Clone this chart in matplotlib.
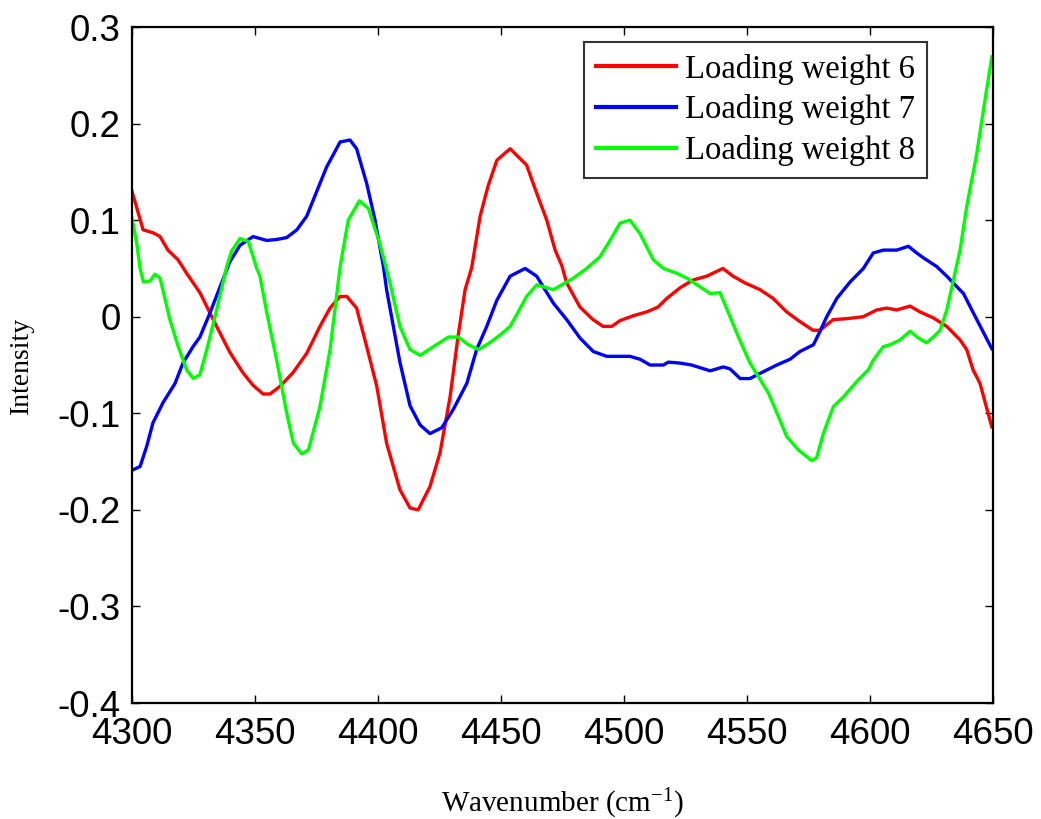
import matplotlib
matplotlib.use("Agg")
import matplotlib.pyplot as plt

# Loading weight 6
wn6 = [4300.0, 4304.5, 4308.5, 4311.4, 4314.6, 4318.7, 4322.2, 4327.6, 4334.4, 4339.8,
       4345.1, 4349.2, 4353.3, 4356.1, 4360.2, 4365.4, 4371.0, 4376.4, 4380.5, 4384.6,
       4387.3, 4391.3, 4395.4, 4399.5, 4403.5, 4408.9, 4413.0, 4416.3, 4421.1, 4425.2,
       4429.3, 4432.5, 4435.4, 4438.1, 4441.5, 4444.7, 4448.3, 4453.7, 4460.4, 4464.5,
       4468.6, 4472.0, 4474.7, 4476.7, 4482.1, 4487.4, 4491.5, 4495.0, 4498.4, 4503.7,
       4509.2, 4513.8, 4517.4, 4522.8, 4528.0, 4533.6, 4540.2, 4544.3, 4549.2, 4555.3,
       4560.6, 4566.1, 4571.5, 4576.8, 4579.7, 4585.0, 4590.5, 4597.2, 4602.7, 4606.8,
       4610.8, 4616.3, 4620.3, 4625.6, 4631.2, 4636.6, 4639.3, 4641.9, 4644.7, 4649.5]
lw6 = [0.130, 0.090, 0.087, 0.083, 0.069, 0.059, 0.045, 0.025, -0.010, -0.037,
       -0.058, -0.071, -0.080, -0.080, -0.072, -0.058, -0.038, -0.010, 0.009, 0.021,
       0.021, 0.009, -0.031, -0.072, -0.131, -0.179, -0.198, -0.200, -0.176, -0.141,
       -0.083, -0.021, 0.028, 0.051, 0.104, 0.135, 0.162, 0.174, 0.157, 0.128,
       0.100, 0.069, 0.053, 0.035, 0.010, -0.003, -0.010, -0.010, -0.004, 0.001,
       0.005, 0.010, 0.019, 0.030, 0.038, 0.042, 0.050, 0.042, 0.035, 0.028,
       0.019, 0.005, -0.005, -0.014, -0.014, -0.003, -0.002, 0.000, 0.007, 0.009,
       0.007, 0.011, 0.005, -0.001, -0.010, -0.024, -0.034, -0.055, -0.069, -0.114]

# Loading weight 7
wn7 = [4300.0, 4303.3, 4306.0, 4308.5, 4312.6, 4317.5, 4320.7, 4324.8, 4327.6, 4331.7,
       4335.8, 4339.8, 4343.9, 4349.2, 4354.8, 4358.8, 4362.9, 4367.0, 4371.0, 4376.4,
       4379.1, 4384.6, 4388.6, 4391.3, 4395.4, 4398.8, 4402.2, 4403.5, 4408.9, 4413.0,
       4417.1, 4421.1, 4425.9, 4430.6, 4436.1, 4440.1, 4444.2, 4448.3, 4453.7, 4459.8,
       4464.5, 4471.3, 4476.7, 4482.1, 4487.5, 4493.0, 4502.4, 4506.5, 4510.6, 4516.0,
       4518.0, 4522.8, 4527.5, 4535.0, 4540.4, 4543.1, 4547.2, 4551.2, 4556.6, 4562.1,
       4567.5, 4571.5, 4577.0, 4579.7, 4582.4, 4586.5, 4591.9, 4597.3, 4601.3, 4605.4,
       4610.9, 4615.6, 4619.0, 4621.7, 4627.1, 4631.2, 4638.0, 4642.0, 4649.5]
lw7 = [-0.159, -0.155, -0.134, -0.110, -0.089, -0.069, -0.048, -0.031, -0.021, 0.004,
       0.031, 0.057, 0.074, 0.083, 0.079, 0.080, 0.082, 0.090, 0.104, 0.138,
       0.155, 0.181, 0.183, 0.174, 0.138, 0.100, 0.052, 0.028, -0.047, -0.092,
       -0.112, -0.121, -0.115, -0.096, -0.069, -0.034, -0.010, 0.017, 0.042, 0.050,
       0.042, 0.014, -0.003, -0.022, -0.036, -0.041, -0.041, -0.044, -0.050, -0.050,
       -0.047, -0.048, -0.050, -0.056, -0.052, -0.054, -0.064, -0.064, -0.057, -0.050,
       -0.044, -0.036, -0.029, -0.015, 0.000, 0.019, 0.036, 0.050, 0.066, 0.069,
       0.069, 0.073, 0.066, 0.061, 0.052, 0.042, 0.024, 0.004, -0.033]

# Loading weight 8
wn8 = [4300.0, 4301.9, 4303.3, 4304.6, 4307.3, 4309.3, 4311.4, 4315.4, 4318.8, 4322.2,
       4324.9, 4327.6, 4330.4, 4334.4, 4338.5, 4340.5, 4343.9, 4347.3, 4350.7, 4352.0,
       4354.8, 4358.8, 4362.9, 4365.6, 4369.0, 4371.7, 4376.4, 4380.5, 4384.6, 4387.9,
       4392.4, 4396.1, 4400.8, 4404.9, 4408.9, 4413.0, 4417.1, 4422.5, 4428.6, 4432.6,
       4436.7, 4440.8, 4444.8, 4449.6, 4453.7, 4457.0, 4460.4, 4464.5, 4471.3, 4479.4,
       4484.8, 4490.2, 4494.3, 4498.4, 4502.4, 4506.5, 4511.9, 4516.0, 4521.4, 4525.5,
       4530.9, 4535.0, 4539.0, 4543.1, 4546.5, 4551.2, 4554.6, 4558.7, 4562.7, 4566.1,
       4570.9, 4576.3, 4578.3, 4581.0, 4585.1, 4589.2, 4594.6, 4599.3, 4601.3, 4605.4,
       4608.1, 4612.2, 4616.3, 4619.6, 4623.0, 4625.7, 4628.5, 4631.2, 4633.9, 4636.6,
       4639.3, 4643.4, 4646.1, 4649.5]
lw8 = [0.102, 0.076, 0.050, 0.036, 0.037, 0.044, 0.040, -0.003, -0.031, -0.055,
       -0.064, -0.060, -0.034, 0.007, 0.052, 0.068, 0.081, 0.078, 0.050, 0.042,
       0.004, -0.045, -0.100, -0.131, -0.142, -0.138, -0.093, -0.034, 0.052, 0.100,
       0.120, 0.112, 0.075, 0.035, -0.010, -0.034, -0.040, -0.031, -0.021, -0.021,
       -0.029, -0.034, -0.028, -0.019, -0.010, 0.005, 0.021, 0.033, 0.028, 0.040,
       0.050, 0.062, 0.079, 0.097, 0.100, 0.086, 0.059, 0.050, 0.045, 0.040,
       0.031, 0.024, 0.025, 0.000, -0.021, -0.048, -0.062, -0.079, -0.103, -0.124,
       -0.138, -0.149, -0.146, -0.121, -0.093, -0.083, -0.067, -0.055, -0.045, -0.031,
       -0.029, -0.024, -0.015, -0.022, -0.027, -0.021, -0.014, 0.007, 0.038, 0.069,
       0.114, 0.169, 0.214, 0.269]

series_labels = ["Loading weight 6", "Loading weight 7", "Loading weight 8"]
series_colors = ["#ff0000", "#0000ff", "#00ff00"]

xticks = [4300, 4350, 4400, 4450, 4500, 4550, 4600, 4650]
yticks = [-0.4, -0.3, -0.2, -0.1, 0.0, 0.1, 0.2, 0.3]
ytick_labels = ["-0.4", "-0.3", "-0.2", "-0.1", "0", "0.1", "0.2", "0.3"]

plt.rcParams["mathtext.fontset"] = "custom"
plt.rcParams["mathtext.rm"] = "Liberation Serif"
plt.rcParams["mathtext.it"] = "Liberation Serif:italic"

fig = plt.figure(figsize=(10.41, 8.19), dpi=100)
ax = fig.add_axes([0.1268, 0.1416, 0.8271, 0.8254])

for xs, ys, lab, col in zip([wn6, wn7, wn8], [lw6, lw7, lw8], series_labels, series_colors):
    ax.plot(xs, ys, color=col, lw=2.4, label=lab)

ax.set_xlim(4300, 4650)
ax.set_ylim(-0.4, 0.3)
ax.set_xticks(xticks)
ax.set_yticks(yticks)
ax.set_yticklabels(ytick_labels)

for lbl in ax.get_xticklabels() + ax.get_yticklabels():
    lbl.set_fontfamily("Liberation Sans")
    lbl.set_fontsize(26.5)

ax.tick_params(axis="both", direction="in", length=6, width=1.0,
               top=True, right=True, colors="black")
ax.tick_params(axis="x", pad=10)
ax.tick_params(axis="y", pad=8)
for sp in ax.spines.values():
    sp.set_linewidth(1.6)
    sp.set_color("black")

ax.set_xlabel(r"Wavenumber (cm$^{\mathregular{-1}}$)", fontfamily="Liberation Serif",
              fontsize=21, labelpad=25)
ax.set_ylabel("Intensity", fontfamily="Liberation Serif", fontsize=20, labelpad=17)

leg = ax.legend(loc="upper right", bbox_to_anchor=(0.923, 0.978),
                prop={"family": "Liberation Serif", "size": 23.5},
                frameon=True, fancybox=False, edgecolor="black",
                handlelength=2.45, handletextpad=0.28, labelspacing=0.3,
                borderpad=0.36, borderaxespad=0.0)
leg.get_frame().set_linewidth(1.5)
for h in leg.get_lines():
    h.set_linewidth(3.0)

fig.savefig("out.png", dpi=100, facecolor="white")
